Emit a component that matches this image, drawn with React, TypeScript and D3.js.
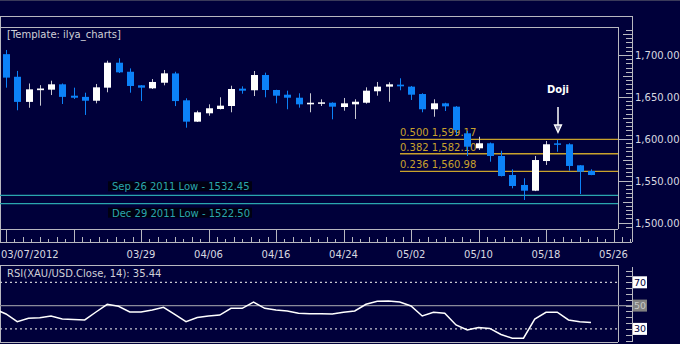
import React from "react";
import * as d3 from "d3";

const opens = [1701, 1674, 1644, 1658, 1658.6, 1665, 1651.4, 1650, 1645.4, 1661, 1690.8, 1680, 1663.8, 1660.2, 1666.9, 1678, 1645.9, 1620.4, 1630.4, 1635.5, 1639.1, 1659.8, 1657.9, 1676.1, 1658.2, 1652.6, 1649, 1641.1, 1641.9, 1643, 1637.9, 1641.1, 1643, 1656.7, 1662.2, 1664.6, 1662.2, 1653.4, 1635.2, 1642.3, 1638.3, 1606.5, 1588.6, 1594.6, 1579.4, 1556.7, 1544.8, 1538, 1573.4, 1594.5, 1593.4, 1568.3, 1561.5];
const highs = [1706, 1681, 1666, 1664, 1669.3, 1666, 1661, 1655, 1665.4, 1693.2, 1696.1, 1684, 1664, 1671.3, 1682.1, 1680, 1648.3, 1633.5, 1641.1, 1649.5, 1663.3, 1662.6, 1680.9, 1678.9, 1658.5, 1657.4, 1654.3, 1654.3, 1647.1, 1643.5, 1648.7, 1647.1, 1661.4, 1667.8, 1667.4, 1672.2, 1663, 1654.3, 1647.1, 1643, 1639, 1609.3, 1602.4, 1595.5, 1585.7, 1563.5, 1552.8, 1579.4, 1597.3, 1598.5, 1594.6, 1568.5, 1563.5];
const lows = [1661, 1634, 1637, 1639.5, 1652.2, 1641.5, 1647.5, 1628.4, 1642.3, 1655.5, 1678.5, 1655, 1645, 1659.4, 1663.8, 1639, 1613.2, 1620, 1627.5, 1635, 1631.6, 1653.8, 1651, 1649.5, 1642.3, 1635.2, 1637.1, 1631.6, 1639.1, 1623.2, 1633.5, 1623.6, 1641.9, 1651.4, 1644.2, 1657.9, 1646.3, 1631.6, 1626.3, 1633.1, 1604.5, 1579.4, 1586.6, 1572.6, 1555, 1540.8, 1526.9, 1537.5, 1568.7, 1584.5, 1561.8, 1534, 1556.5];
const closes = [1673, 1644, 1659, 1660, 1665, 1650, 1649, 1645.4, 1661.4, 1690.8, 1679.3, 1663, 1661, 1667.8, 1678.1, 1645, 1620.4, 1631.6, 1636.4, 1639.5, 1659.4, 1657.4, 1676.1, 1658.2, 1651.4, 1649, 1641.1, 1643, 1643.5, 1638.3, 1642.3, 1644.2, 1657.4, 1662.2, 1665, 1662.6, 1652.6, 1635.2, 1642.3, 1638.7, 1610.4, 1590.5, 1594.6, 1579.4, 1555.5, 1543.6, 1538, 1574.6, 1593.4, 1594, 1567.5, 1560.7, 1556.7];

// RSI values, starting one bar before the first visible candle
const rsiValues = [47.1, 42.8, 36.2, 39.1, 39.6, 41.1, 38.5, 38.1, 37.7, 44.5, 51.1, 49.4, 44.5, 44.5, 46.2, 48.5, 42.4, 36.2, 39.8, 41.1, 41.9, 47.7, 47.7, 53.1, 47.7, 46.2, 45.4, 43.4, 43.1, 43.0, 42.8, 44.3, 45.4, 51.1, 53.7, 53.9, 53.1, 49.7, 41.1, 44.3, 43.4, 33.4, 29.1, 31.1, 30.4, 25.2, 22.0, 22.0, 38.5, 44.3, 44.3, 37.7, 36.2, 35.44];

const xTickIndex = [0, 6, 12, 18, 24, 30, 36, 42, 48, 54];
const xTickLabels = ["03/07/2012", "", "03/29", "04/06", "04/16", "04/24", "05/02", "05/10", "05/18", "05/26"];
const priceTicks = [1500, 1550, 1600, 1650, 1700];
const rsiLevels = [30, 50, 70];

const fibRatios = ["0.500", "0.382", "0.236"];
const fibPrices = [1599.17, 1582.1, 1560.98];
const supportLabels = ["Sep 26 2011 Low - 1532.45", "Dec 29 2011 Low - 1522.50"];
const supportPrices = [1532.45, 1522.5];

const BG = "#00003a";
const FRAME = "#b8b8c0";
const BLUE = "#0c82f8";
const GOLD = "#c9a22c";
const TEAL = "#2aa6ae";
const FONT = "'DejaVu Sans', Verdana, sans-serif";

export default function App() {
  const W = 680, H = 344;
  const x = d3.scaleLinear().domain([0, 52]).range([6, 591]);
  const y = d3.scaleLinear().domain([1500, 1700]).range([222.5, 55]);
  const ry = d3.scaleLinear().domain([30, 70]).range([328.9, 282.3]);
  const fmt = d3.format(",.2f");

  const plotR = 618, plotT = 27, plotB = 229;
  const axisR = 632, outerT = 16, axisB = 242;
  const rsiT = 265, rsiB = 342;
  const bw = 7;

  const minorPrice = d3.range(1495, 1735, 5).filter((p) => y(p) > plotT + 1 && y(p) < plotB - 1);
  const minorRsi = d3.range(5, 100, 5).filter((v) => ry(v) > rsiT + 1 && ry(v) < rsiB - 1);
  const step = x(6) - x(0);
  const minorX: number[] = [];
  xTickIndex.forEach((ti) => {
    for (let k = 1; k < 8; k++) minorX.push(x(ti) + (step * k) / 8);
  });

  const rsiLine = d3
    .line<number>()
    .x((_, i) => x(i - 1))
    .y((v) => ry(v))(rsiValues);

  return (
    <svg width={W} height={H} style={{ position: "absolute", left: 0, top: 0, background: BG, fontFamily: FONT }}>
      <rect x={0} y={0} width={W} height={H} fill={BG} />
      <line x1={0} x2={W} y1={0.5} y2={0.5} stroke="#3a3a5a" />

      {/* frames */}
      <line x1={0} x2={axisR} y1={outerT + 0.5} y2={outerT + 0.5} stroke={FRAME} />
      <line x1={0} x2={plotR} y1={plotT + 0.5} y2={plotT + 0.5} stroke={FRAME} />
      <line x1={0.5} x2={0.5} y1={outerT} y2={axisB} stroke={FRAME} />
      <line x1={plotR + 0.5} x2={plotR + 0.5} y1={plotT} y2={plotB} stroke={FRAME} />
      <line x1={axisR + 0.5} x2={axisR + 0.5} y1={outerT} y2={axisB} stroke={FRAME} />
      <line x1={0} x2={plotR} y1={plotB + 0.5} y2={plotB + 0.5} stroke={FRAME} />
      <line x1={0} x2={axisR} y1={axisB + 0.5} y2={axisB + 0.5} stroke={FRAME} />

      <text x={7} y={38} fill="#d0d0d8" fontSize={10}>[Template: ilya_charts]</text>

      {/* price axis ticks */}
      {minorPrice.map((p) => (
        <line key={"mp" + p} x1={p % 50 === 0 ? plotR + 1 : p % 25 === 0 ? 623 : 626} x2={axisR} y1={Math.round(y(p)) + 0.5} y2={Math.round(y(p)) + 0.5} stroke={FRAME} />
      ))}
      {priceTicks.map((p) => (
        <text key={"pt" + p} x={635} y={y(p) + 4} fill="#d8d8e0" fontSize={10}>{fmt(p)}</text>
      ))}

      {/* x axis ticks */}
      {xTickIndex.map((ti) => (
        <line key={"xt" + ti} x1={Math.round(x(ti)) + 0.5} x2={Math.round(x(ti)) + 0.5} y1={plotB} y2={axisB} stroke={FRAME} />
      ))}
      {minorX.filter((v) => v < axisR).map((v, i) => (
        <line key={"mx" + i} x1={Math.round(v) + 0.5} x2={Math.round(v) + 0.5} y1={i % 2 === 0 ? axisB - 3 : axisB - 5} y2={axisB} stroke={FRAME} />
      ))}
      {xTickIndex.map((ti, i) =>
        xTickLabels[i] ? (
          <text key={"xl" + ti} x={i === 0 ? 1 : x(ti)} y={258} textAnchor={i === 0 ? "start" : "middle"} fill="#d8d8e0" fontSize={10}>
            {xTickLabels[i]}
          </text>
        ) : null
      )}

      {/* support lines */}
      {supportPrices.map((p, i) => (
        <g key={"sp" + i}>
          <line x1={0} x2={plotR} y1={y(p)} y2={y(p)} stroke={TEAL} strokeWidth={1.2} />
          <rect x={108} y={i === 0 ? y(p) - 14 : y(p) + 4} width={144} height={10} fill="#000012" />
          <text x={112} y={i === 0 ? y(p) - 5 : y(p) + 13} fill={TEAL} fontSize={10}>{supportLabels[i]}</text>
        </g>
      ))}

      {/* fib lines */}
      {fibPrices.map((p, i) => (
        <g key={"fb" + i}>
          <line x1={400} x2={plotR} y1={y(p)} y2={y(p)} stroke={GOLD} strokeWidth={1.3} />
          <text x={400} y={y(p) - 3} fill={GOLD} fontSize={10}>{fibRatios[i] + " " + fmt(p)}</text>
        </g>
      ))}

      {/* candles */}
      {opens.map((o, i) => {
        const c = closes[i];
        const up = c >= o;
        const cx = Math.round(x(i));
        const top = y(Math.max(o, c));
        const bot = y(Math.min(o, c));
        const col = up ? "#ffffff" : BLUE;
        return (
          <g key={"c" + i}>
            <line x1={cx + 0.5} x2={cx + 0.5} y1={y(highs[i])} y2={y(lows[i])} stroke={up ? "#c8c8d0" : BLUE} />
            <rect x={cx - 3} y={top} width={bw} height={Math.max(1.5, bot - top)} fill={col} />
          </g>
        );
      })}

      {/* Doji annotation */}
      <text x={558} y={93} textAnchor="middle" fill="#ffffff" fontSize={10} fontWeight="bold">Doji</text>
      <line x1={558} x2={558} y1={107} y2={126} stroke="#ffffff" strokeWidth={1.5} />
      <path d="M554.5,125 L561.5,125 L558,132.5 Z" fill="#8a8aa8" stroke="#ffffff" strokeWidth={1.3} />

      {/* RSI panel */}
      <line x1={0} x2={plotR} y1={rsiT + 0.5} y2={rsiT + 0.5} stroke={FRAME} />
      <line x1={0.5} x2={0.5} y1={rsiT} y2={rsiB} stroke={FRAME} />
      <line x1={plotR + 0.5} x2={plotR + 0.5} y1={rsiT} y2={rsiB} stroke={FRAME} />
      <line x1={axisR + 0.5} x2={axisR + 0.5} y1={rsiT + 2} y2={rsiB} stroke={FRAME} />
      <line x1={0} x2={plotR} y1={rsiB + 0.5} y2={rsiB + 0.5} stroke={FRAME} />
      {minorRsi.map((v) => (
        <line key={"mr" + v} x1={626} x2={axisR} y1={Math.round(ry(v)) + 0.5} y2={Math.round(ry(v)) + 0.5} stroke={FRAME} />
      ))}
      <text x={7} y={277} fill="#d0d0d8" fontSize={10}>RSI(XAU/USD.Close, 14): 35.44</text>
      {rsiLevels.map((v) => (
        <line
          key={"rl" + v}
          x1={0}
          x2={v === 50 ? axisR : plotR}
          y1={ry(v)}
          y2={ry(v)}
          stroke={v === 50 ? "#8a8a9a" : "#c8c8d0"}
          strokeWidth={1.2}
          strokeDasharray={v === 50 ? undefined : "2,3"}
        />
      ))}
      {rsiLevels.map((v) => (
        <g key={"rb" + v}>
          <rect x={633} y={ry(v) - 6} width={14} height={12} fill={v === 50 ? "#808080" : "#ffffff"} />
          <text x={640} y={ry(v) + 3.5} textAnchor="middle" fill={v === 50 ? "#c8c8c8" : "#00003a"} fontSize={9.5}>{v}</text>
        </g>
      ))}
      <path d={rsiLine || ""} fill="none" stroke="#ffffff" strokeWidth={1.5} />
    </svg>
  );
}
